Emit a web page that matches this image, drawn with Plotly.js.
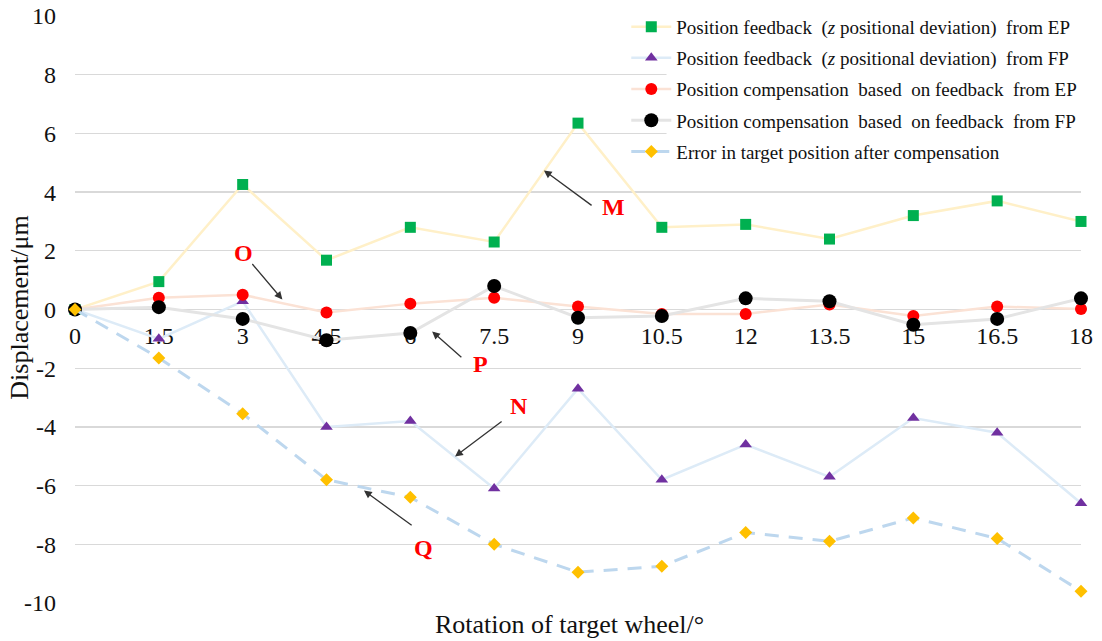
<!DOCTYPE html>
<html>
<head>
<meta charset="utf-8">
<script src="https://cdn.plot.ly/plotly-3.0.1.min.js"></script>
<style>html,body{margin:0;padding:0;background:#fff;}#chart{width:1102px;height:641px;}</style>
</head>
<body>
<div id="chart"></div>
<script>
const rotation = [0, 1.5, 3, 4.5, 6, 7.5, 9, 10.5, 12, 13.5, 15, 16.5, 18];
const xTickText = ['0', '1.5', '3', '4.5', '6', '7.5', '9', '10.5', '12', '13.5', '15', '16.5', '18'];
const yTickVals = [-10, -8, -6, -4, -2, 0, 2, 4, 6, 8, 10];
const yTickText = ['-10', '-8', '-6', '-4', '-2', '0', '2', '4', '6', '8', '10'];

const feedbackEP = [0, 0.95, 4.26, 1.68, 2.8, 2.3, 6.35, 2.8, 2.9, 2.4, 3.2, 3.7, 3.0];
const feedbackFP = [0, -1.0, 0.28, -4.0, -3.8, -6.1, -2.7, -5.8, -4.6, -5.7, -3.7, -4.2, -6.6];
const compEP = [0, 0.4, 0.5, -0.1, 0.2, 0.4, 0.1, -0.15, -0.15, 0.17, -0.22, 0.1, 0.02];
const compFP = [0, 0.08, -0.32, -1.05, -0.8, 0.8, -0.28, -0.22, 0.38, 0.28, -0.52, -0.32, 0.38];
const errorAfter = [0, -1.65, -3.55, -5.8, -6.4, -8.0, -8.95, -8.75, -7.6, -7.9, -7.1, -7.8, -9.6];

const names = [
  'Position feedback  (<i>z</i> positional deviation)  from EP',
  'Position feedback  (<i>z</i> positional deviation)  from FP',
  'Position compensation  based  on feedback  from EP',
  'Position compensation  based  on feedback  from FP',
  'Error in target position after compensation'
];

const FONT = 'Liberation Serif, Times New Roman, serif';

const traces = [
  {x: rotation, y: feedbackEP, name: names[0], legendgroup: 'a', mode: 'lines+markers',
   line: {color: '#fff0c8', width: 2.5}, marker: {symbol: 'square', size: 11, color: '#00b050'}},
  {x: rotation, y: feedbackFP, name: names[1], legendgroup: 'b', mode: 'lines+markers',
   line: {color: '#ddebf7', width: 2.5}, marker: {symbol: 'triangle-up', size: 11, color: '#7030a0'}},
  {x: rotation, y: compEP, name: names[2], legendgroup: 'c', mode: 'lines+markers',
   line: {color: '#fbe2d5', width: 2.5}, marker: {symbol: 'circle', size: 12, color: '#ff0000'}},
  {x: rotation, y: compFP, name: names[3], legendgroup: 'd', mode: 'lines+markers',
   line: {color: '#e4e4e4', width: 3}, marker: {symbol: 'circle', size: 14, color: '#000000'}},
  {x: rotation, y: errorAfter, name: names[4], legendgroup: 'e', mode: 'lines+markers',
   line: {color: '#bdd7ee', width: 3, dash: '14px,10px'}, marker: {symbol: 'diamond', size: 10, color: '#ffc000'}}
].map(t => Object.assign(t, {type: 'scatter', cliponaxis: false}));

function arrow(hx, hy, tx, ty) {
  return {x: hx, y: hy, ax: tx, ay: ty, xref: 'x', yref: 'y', axref: 'x', ayref: 'y',
    text: '', showarrow: true, arrowhead: 2, arrowsize: 1.2, arrowwidth: 1.3, arrowcolor: '#333'};
}
function letter(t, x, y) {
  return {x: x, y: y, xref: 'x', yref: 'y', text: '<b>' + t + '</b>', showarrow: false,
    font: {family: FONT, size: 24, color: '#ff0000'}};
}

const annotations = [
  arrow(8.39, 4.74, 9.27, 3.51), letter('M', 9.63, 3.48),
  arrow(3.71, 0.34, 3.15, 1.60), letter('O', 3.01, 1.94),
  arrow(6.39, -0.75, 6.94, -1.67), letter('P', 7.25, -1.87),
  arrow(6.80, -5.01, 7.66, -3.78), letter('N', 7.95, -3.30),
  arrow(5.17, -6.17, 6.05, -7.39), letter('Q', 6.23, -8.14),
  {xref: 'paper', yref: 'paper', x: 0.492, y: -0.037, yanchor: 'middle', showarrow: false,
   text: 'Rotation of target wheel/°', font: {family: FONT, size: 26, color: '#111'}},
  {xref: 'paper', yref: 'paper', x: -0.0547, y: 0.503, xanchor: 'center', yanchor: 'middle',
   textangle: -90, showarrow: false,
   text: 'Displacement/μm', font: {family: FONT, size: 26, color: '#111'}}
];

const layout = {
  width: 1102, height: 641,
  margin: {l: 75, r: 21, t: 16, b: 38, autoexpand: false},
  paper_bgcolor: '#fff', plot_bgcolor: '#fff',
  font: {family: FONT, size: 24, color: '#111'},
  showlegend: true,
  legend: {x: 0.548, y: 1.014, xanchor: 'left', yanchor: 'top', bgcolor: 'rgba(0,0,0,0)',
    font: {family: FONT, size: 19, color: '#111'}, traceorder: 'grouped', tracegroupgap: 3.5,
    itemwidth: 40},
  xaxis: {range: [0, 18], tickvals: rotation, ticktext: xTickText, showgrid: false, zeroline: false,
    showline: false, ticks: '', anchor: 'free', position: 0.5, layer: 'below traces', automargin: false,
    ticklabelstandoff: 9, tickfont: {family: FONT, size: 24, color: '#111'}},
  yaxis: {range: [-10, 10], tickvals: yTickVals, ticktext: yTickText, showgrid: true, automargin: false,
    gridcolor: '#d9d9d9', gridwidth: 1.3, zeroline: true, zerolinecolor: '#d9d9d9', zerolinewidth: 1.3,
    showline: false, ticks: '', ticklabelstandoff: 18,
    tickfont: {family: FONT, size: 24, color: '#111'}},
  shapes: [{type: 'rect', xref: 'paper', yref: 'paper', x0: 0.588, x1: 1.03, y0: 0.746, y1: 1.03,
    fillcolor: '#fff', line: {width: 0}, layer: 'above'}],
  annotations: annotations
};

Plotly.newPlot('chart', traces, layout, {displayModeBar: false, staticPlot: true});
</script>
</body>
</html>
